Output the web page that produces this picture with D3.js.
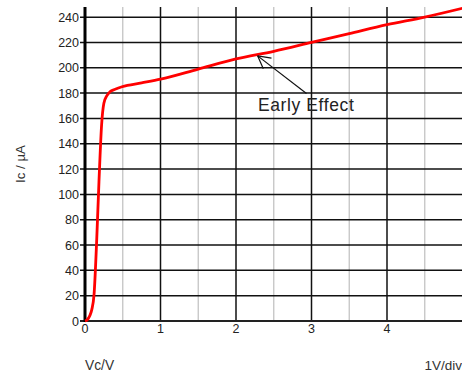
<!DOCTYPE html>
<html>
<head>
<meta charset="utf-8">
<script src="https://cdn.jsdelivr.net/npm/d3@7"></script>
<style>
  html, body { margin: 0; padding: 0; background: #fff; }
  svg { display: block; font-family: "Liberation Sans", Arial, sans-serif; }
</style>
</head>
<body>
<svg id="chart" width="462" height="374"></svg>
<script>
// Collector voltage (V) and collector current (µA) of the output characteristic
const vc = [0, 0.03, 0.09, 0.12, 0.155, 0.185, 0.22, 0.25, 0.29, 0.33, 0.4, 0.49, 0.75, 1.0, 1.5, 2.0, 2.5, 3.0, 3.5, 4.0, 4.5, 5.0];
const ic = [0, 1, 9, 21, 64, 110, 155, 172, 178, 181, 183, 185, 188, 191, 199, 207, 213, 220, 227, 234, 240, 247];

const xMajorTicks = [0, 1, 2, 3, 4];
const xMinorTicks = [0.5, 1.5, 2.5, 3.5, 4.5];
const yTicks = [0, 20, 40, 60, 80, 100, 120, 140, 160, 180, 200, 220, 240];

const xLabel = "Vc/V";
const yLabel = "Ic / µA";
const scaleNote = "1V/div";
const annotation = "Early Effect";
const annotationAt = 2.3; // voltage where the annotation arrow points

const svg = d3.select("#chart");
const x = d3.scaleLinear().domain([0, 5]).range([85, 462.5]);
const y = d3.scaleLinear().domain([0, 248]).range([321, 7]);

// minor (half-volt) grid
svg.append("g").selectAll("line").data(xMinorTicks).join("line")
  .attr("x1", d => x(d)).attr("x2", d => x(d))
  .attr("y1", y(248)).attr("y2", y(0))
  .attr("stroke", "#c4c4c4").attr("stroke-width", 1.3);

// major vertical grid
svg.append("g").selectAll("line").data(xMajorTicks.filter(d => d > 0)).join("line")
  .attr("x1", d => x(d)).attr("x2", d => x(d))
  .attr("y1", y(248)).attr("y2", y(0))
  .attr("stroke", "#111").attr("stroke-width", 1.5);

// horizontal grid with tick stubs left of the axis
svg.append("g").selectAll("line").data(yTicks.filter(d => d > 0)).join("line")
  .attr("x1", x(0) - 5).attr("x2", 462)
  .attr("y1", d => y(d)).attr("y2", d => y(d))
  .attr("stroke", "#111").attr("stroke-width", 1.5);

// x axis line
svg.append("line")
  .attr("x1", x(0) - 5).attr("x2", 462)
  .attr("y1", y(0)).attr("y2", y(0))
  .attr("stroke", "#222").attr("stroke-width", 2);

// y axis line
svg.append("line")
  .attr("x1", x(0)).attr("x2", x(0))
  .attr("y1", y(248)).attr("y2", y(0) + 1)
  .attr("stroke", "#000").attr("stroke-width", 3);

// tick labels
svg.append("g").selectAll("text").data(yTicks).join("text")
  .attr("x", x(0) - 6).attr("y", d => y(d))
  .attr("dy", "0.36em").attr("text-anchor", "end")
  .attr("font-size", 12.5).attr("fill", "#222")
  .text(d => d);

svg.append("g").selectAll("text").data(xMajorTicks).join("text")
  .attr("x", d => x(d)).attr("y", y(0) + 12)
  .attr("text-anchor", "middle")
  .attr("font-size", 12.5).attr("fill", "#222")
  .text(d => d);

// axis titles
svg.append("text")
  .attr("x", 85).attr("y", 369.5)
  .attr("font-size", 13.8).attr("fill", "#333")
  .text(xLabel);

svg.append("text")
  .attr("x", 462).attr("y", 369.5)
  .attr("text-anchor", "end")
  .attr("font-size", 13.5).attr("fill", "#333")
  .text(scaleNote);

svg.append("text")
  .attr("transform", `translate(25,${164}) rotate(-90)`)
  .attr("text-anchor", "middle")
  .attr("font-size", 13.3).attr("fill", "#333")
  .text(yLabel);

// characteristic curve
const line = d3.line().x((d, i) => x(vc[i])).y(d => y(d)).curve(d3.curveMonotoneX);
svg.append("path")
  .datum(ic)
  .attr("d", line)
  .attr("fill", "none")
  .attr("stroke", "#ff0000")
  .attr("stroke-width", 2.8)
  .attr("stroke-linejoin", "round");

// annotation arrow pointing at the sloped region
const tipIc = d3.scaleLinear().domain(vc).range(ic)(annotationAt);
const tip = [x(annotationAt) - 1, y(tipIc) + 1.5];
const tail = [306.5, 93.5];
svg.append("line")
  .attr("x1", tail[0]).attr("y1", tail[1])
  .attr("x2", tip[0]).attr("y2", tip[1])
  .attr("stroke", "#111").attr("stroke-width", 1.2);
const ang = Math.atan2(tail[1] - tip[1], tail[0] - tip[0]);
[-0.5, 0.5].forEach(o => {
  svg.append("line")
    .attr("x1", tip[0]).attr("y1", tip[1])
    .attr("x2", tip[0] + 14 * Math.cos(ang + o))
    .attr("y2", tip[1] + 14 * Math.sin(ang + o))
    .attr("stroke", "#111").attr("stroke-width", 1.2);
});

svg.append("text")
  .attr("x", 258).attr("y", 110.5)
  .attr("font-size", 17.5).attr("letter-spacing", 0.6).attr("fill", "#222")
  .text(annotation);
</script>
</body>
</html>
